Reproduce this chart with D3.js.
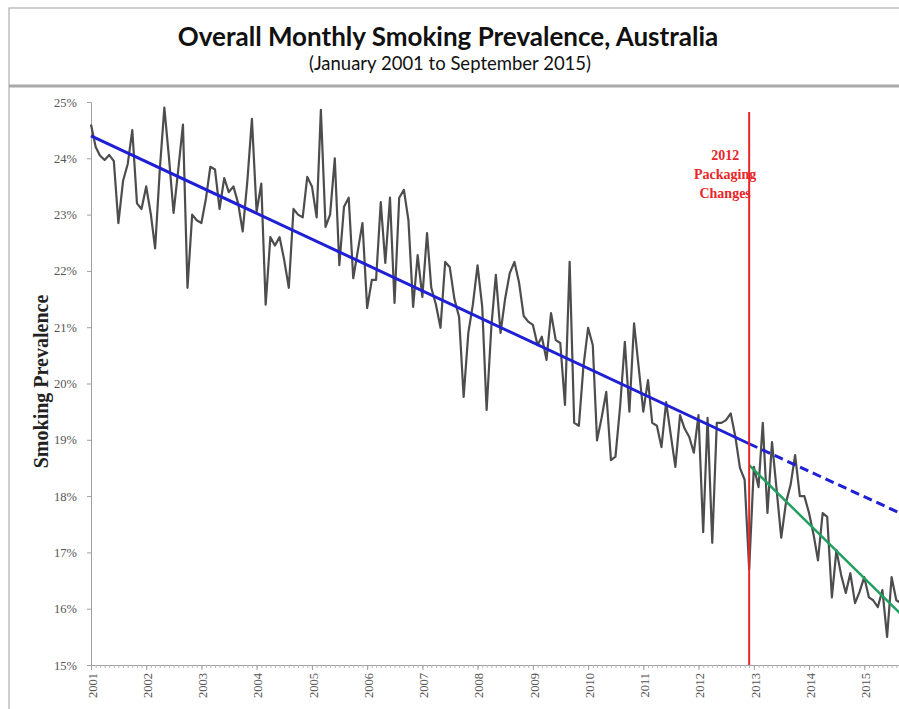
<!DOCTYPE html>
<html>
<head>
<meta charset="utf-8">
<script src="https://cdn.jsdelivr.net/npm/d3@7"></script>
<style>
  html, body { margin: 0; padding: 0; background: #fff; }
  svg { display: block; }
</style>
</head>
<body>
<div id="chart"></div>
<script>
// monthly smoking prevalence (%), Jan 2001 .. Sep 2015
const prevalence = [
  24.6, 24.2, 24.05, 23.97, 24.06, 23.95, 22.85, 23.6, 23.9, 24.5, 23.2, 23.1,   // 2001
  23.5, 23.0, 22.4, 23.8, 24.9, 24.0, 23.03, 23.8, 24.6, 21.7, 23.0, 22.9,       // 2002
  22.85, 23.3, 23.85, 23.8, 23.1, 23.65, 23.4, 23.5, 23.2, 22.7, 23.6, 24.7,     // 2003
  23.05, 23.55, 21.4, 22.6, 22.45, 22.6, 22.2, 21.7, 23.1, 23.0, 22.95, 23.67,   // 2004
  23.5, 22.95, 24.86, 22.78, 23.0, 24.0, 22.1, 23.14, 23.3, 21.87, 22.37, 22.85, // 2005
  21.34, 21.84, 21.84, 23.22, 22.14, 23.3, 21.43, 23.3, 23.44, 22.9, 21.36, 22.28, // 2006
  21.54, 22.67, 21.7, 21.4, 20.99, 22.16, 22.07, 21.5, 21.18, 19.76, 20.9, 21.4,   // 2007
  22.1, 21.36, 19.53, 21.0, 21.93, 20.9, 21.5, 21.96, 22.16, 21.8, 21.2, 21.1,     // 2008
  21.04, 20.68, 20.83, 20.42, 21.25, 20.77, 20.72, 19.62, 22.16, 19.3, 19.25, 20.3, // 2009
  20.99, 20.68, 18.99, 19.4, 19.85, 18.64, 18.7, 19.6, 20.74, 19.5, 21.07, 20.3,   // 2010
  19.5, 20.06, 19.3, 19.25, 18.87, 19.67, 19.1, 18.52, 19.44, 19.2, 19.05, 18.77,  // 2011
  19.44, 17.36, 19.39, 17.17, 19.3, 19.3, 19.35, 19.47, 19.05, 18.5, 18.29, 16.7,  // 2012
  18.52, 18.16, 19.3, 17.7, 18.96, 18.1, 17.26, 17.88, 18.2, 18.73, 18.0, 18.0,    // 2013
  17.7, 17.3, 16.86, 17.7, 17.63, 16.2, 17.04, 16.6, 16.28, 16.63, 16.1, 16.3,     // 2014
  16.56, 16.2, 16.15, 16.03, 16.33, 15.5, 16.56, 16.15, 16.1                       // 2015 (to Sep)
];

// trend lines: [month index, value]
const preTrend = [[0, 24.4], [143, 18.93]];
const preTrendProjected = [[143, 18.93], [176, 17.69]];
const postTrend = [[143, 18.55], [176, 15.9]];

const changeMonth = 143;   // Dec 2012
const annotationLines = ["2012", "Packaging", "Changes"];
const yTicks = [15, 16, 17, 18, 19, 20, 21, 22, 23, 24, 25];
const yearTicks = d3.range(2001, 2016);

const title = "Overall Monthly Smoking Prevalence, Australia";
const subtitle = "(January 2001 to September 2015)";
const yLabel = "Smoking Prevalence";

const width = 899, height = 709;
const margin = { left: 91, top: 102, bottom: 665 };

const monthDate = i => new Date(2001, i, 1);

const svg = d3.select("#chart").append("svg")
    .attr("width", width)
    .attr("height", height);

// frame / title box
svg.append("rect")
    .attr("x", 9).attr("y", 8)
    .attr("width", width + 20).attr("height", height + 20)
    .attr("fill", "#fff")
    .attr("stroke", "#b0b0b0")
    .attr("stroke-width", 1.2);

svg.append("line")
    .attr("x1", 9).attr("x2", width)
    .attr("y1", 86).attr("y2", 86)
    .attr("stroke", "#a8a8a8")
    .attr("stroke-width", 3);

svg.append("text")
    .attr("x", 448).attr("y", 46)
    .attr("text-anchor", "middle")
    .attr("font-family", "Lato, 'Open Sans', sans-serif")
    .attr("font-weight", "bold")
    .attr("font-size", "26px")
    .attr("fill", "#111")
    .text(title);

svg.append("text")
    .attr("x", 450).attr("y", 70)
    .attr("text-anchor", "middle")
    .attr("font-family", "Lato, 'Open Sans', sans-serif")
    .attr("font-size", "18.5px")
    .attr("fill", "#111")
    .text(subtitle);

// scales
const x = d3.scaleTime()
    .domain([monthDate(0), monthDate(prevalence.length - 1)])
    .range([margin.left, 901]);

const y = d3.scaleLinear()
    .domain([15, 25])
    .range([margin.bottom, margin.top]);

// y axis
const yAxis = d3.axisLeft(y)
    .tickValues(yTicks)
    .tickSize(4)
    .tickPadding(10)
    .tickFormat(d => d + "%");

const gy = svg.append("g")
    .attr("transform", `translate(${margin.left},0)`)
    .call(yAxis);
gy.select(".domain").attr("stroke", "#a0a0a0");
gy.selectAll(".tick line").attr("stroke", "#a0a0a0");
gy.selectAll(".tick text")
    .attr("font-family", "'Liberation Serif', 'Times New Roman', serif")
    .attr("font-size", "12.5px")
    .attr("fill", "#555");

// x axis: monthly minor ticks + yearly labels
const xMinor = d3.axisBottom(x)
    .ticks(d3.timeMonth.every(1))
    .tickSize(3)
    .tickFormat("");
const gxm = svg.append("g")
    .attr("transform", `translate(0,${margin.bottom})`)
    .call(xMinor);
gxm.select(".domain").attr("stroke", "#a0a0a0");
gxm.selectAll(".tick line").attr("stroke", "#b8b8b8");

const xAxis = d3.axisBottom(x)
    .tickValues(yearTicks.map(yr => new Date(yr, 0, 1)))
    .tickSize(5)
    .tickFormat(d3.timeFormat("%Y"));
const gx = svg.append("g")
    .attr("transform", `translate(0,${margin.bottom})`)
    .call(xAxis);
gx.select(".domain").remove();
gx.selectAll(".tick line").attr("stroke", "#a0a0a0");
gx.selectAll(".tick text")
    .attr("font-family", "'Liberation Serif', 'Times New Roman', serif")
    .attr("font-size", "12.5px")
    .attr("fill", "#555")
    .attr("text-anchor", "end")
    .attr("dy", "0.35em")
    .attr("transform", "translate(1,8) rotate(-90)")
    .attr("x", 0)
    .attr("y", 0);

// y axis title
svg.append("text")
    .attr("transform", `translate(48,${(margin.top + margin.bottom) / 2 - 2}) rotate(-90)`)
    .attr("text-anchor", "middle")
    .attr("font-family", "'Liberation Serif', 'Times New Roman', serif")
    .attr("font-weight", "bold")
    .attr("font-size", "20px")
    .attr("fill", "#222")
    .text(yLabel);

// data line
const line = d3.line()
    .x((d, i) => x(monthDate(i)))
    .y(d => y(d));

svg.append("path")
    .datum(prevalence)
    .attr("fill", "none")
    .attr("stroke", "#4d4d4d")
    .attr("stroke-width", 2.2)
    .attr("stroke-linejoin", "round")
    .attr("d", line);

// trend lines
const trendLine = d3.line()
    .x(d => x(monthDate(d[0])))
    .y(d => y(d[1]));

svg.append("path")
    .datum(preTrend)
    .attr("fill", "none")
    .attr("stroke", "#1f1fd6")
    .attr("stroke-width", 3)
    .attr("d", trendLine);

svg.append("path")
    .datum(preTrendProjected)
    .attr("fill", "none")
    .attr("stroke", "#1f1fd6")
    .attr("stroke-width", 3)
    .attr("stroke-dasharray", "9,5")
    .attr("d", trendLine);

svg.append("path")
    .datum(postTrend)
    .attr("fill", "none")
    .attr("stroke", "#21a060")
    .attr("stroke-width", 2.5)
    .attr("d", trendLine);

// packaging change marker
const xc = x(monthDate(changeMonth));
svg.append("line")
    .attr("x1", xc).attr("x2", xc)
    .attr("y1", 112).attr("y2", margin.bottom)
    .attr("stroke", "#e8262a")
    .attr("stroke-width", 2);

svg.append("g")
    .selectAll("text")
    .data(annotationLines)
    .enter()
    .append("text")
    .attr("x", xc - 24)
    .attr("y", (d, i) => 160 + i * 19)
    .attr("text-anchor", "middle")
    .attr("font-family", "'Liberation Serif', 'Times New Roman', serif")
    .attr("font-weight", "bold")
    .attr("font-size", "14px")
    .attr("fill", "#e8262a")
    .text(d => d);
</script>
</body>
</html>
